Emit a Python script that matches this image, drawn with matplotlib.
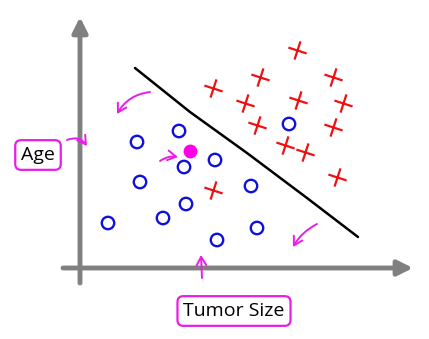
import matplotlib
matplotlib.use("Agg")
import matplotlib.pyplot as plt
from matplotlib.markers import MarkerStyle
from matplotlib.transforms import Affine2D

# benign tumours (o) and malignant (x), positions on the sketch
circle_x = [179, 137, 184, 215, 140, 186, 251, 163, 108, 257, 217, 289]
circle_y = [131, 142, 167, 160, 182, 204, 186, 218, 223, 228, 240, 124]
cross_x = [297, 260, 333, 213, 245, 298, 343, 257, 333, 285, 305, 337, 213]
cross_y = [50, 77, 77, 88, 103, 100, 103, 125, 127, 145, 152, 177, 190]
query_x, query_y = [190], [151]

boundary_x = [135, 190, 247, 307, 358]
boundary_y = [68, 112, 153, 198, 237]

pink = "#e81ee8"
grey = "#808080"

fig = plt.figure(figsize=(4.29, 3.39), dpi=100)
ax = fig.add_axes([0, 0, 1, 1])
ax.set_xlim(0, 429)
ax.set_ylim(339, 0)
ax.axis("off")

# axes of the sketch
ax.annotate("", xy=(80, 17), xytext=(80, 283),
            arrowprops=dict(arrowstyle="-|>,head_length=0.9,head_width=0.45",
                            color=grey, lw=3.5, shrinkA=0, shrinkB=0))
ax.annotate("", xy=(413, 268), xytext=(63, 268),
            arrowprops=dict(arrowstyle="-|>,head_length=0.9,head_width=0.45",
                            color=grey, lw=3.5, shrinkA=0, shrinkB=0))

# decision boundary
ax.plot(boundary_x, boundary_y, color="black", lw=1.8, solid_capstyle="round")

cross = MarkerStyle("+", transform=Affine2D().rotate_deg(-18))
ax.scatter(cross_x, cross_y, marker=cross, s=190, color="#ee1111", lw=1.6)
ax.scatter(circle_x, circle_y, marker="o", s=80, facecolors="none",
           edgecolors="#1010dd", lw=1.7)
ax.scatter(query_x, query_y, marker="o", s=80, color="#ff00e6")

# pink hand-drawn arrows
arrows = [((150, 92), (117, 114), 0.25),
          ((67, 140), (87, 146), -0.4),
          ((160, 161), (178, 157), -0.2),
          ((202, 278), (201, 255), 0.0),
          ((317, 224), (293, 247), 0.15)]
for start, end, rad in arrows:
    ax.annotate("", xy=end, xytext=start,
                arrowprops=dict(arrowstyle="->,head_length=0.6,head_width=0.35",
                                color=pink, lw=1.4, shrinkA=0, shrinkB=0,
                                connectionstyle=f"arc3,rad={rad}"))

box = dict(boxstyle="round,pad=0.3,rounding_size=0.3", fc="white",
           ec=pink, lw=1.6)
ax.text(38, 155, "Age", fontsize=14, family="Open Sans", ha="center",
        va="center", bbox=box)
ax.text(234, 311, "Tumor Size", fontsize=14, family="Open Sans",
        ha="center", va="center", bbox=box)

fig.savefig("out.png", dpi=100)
